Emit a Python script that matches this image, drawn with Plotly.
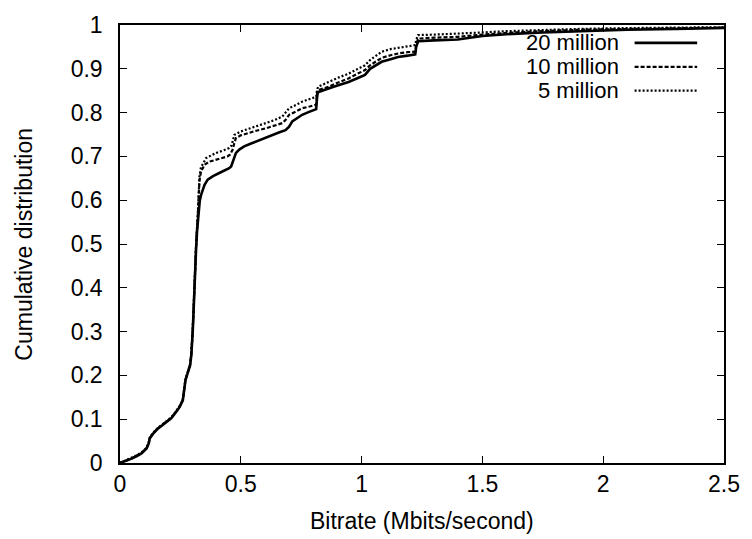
import plotly.graph_objects as go

# Bitrate CDFs for three trace sizes
bitrate_20m = [0, 0.02, 0.048, 0.07, 0.089, 0.11, 0.119, 0.123, 0.137, 0.158, 0.185, 0.212,
               0.233, 0.247, 0.26, 0.267, 0.271, 0.28, 0.29, 0.295, 0.299, 0.301, 0.304,
               0.308, 0.312, 0.315, 0.319, 0.322, 0.326, 0.33, 0.336, 0.35, 0.363, 0.385,
               0.411, 0.44, 0.452, 0.46, 0.466, 0.473, 0.48, 0.495, 0.514, 0.54, 0.562, 0.6,
               0.63, 0.66, 0.685, 0.70, 0.713, 0.735, 0.754, 0.78, 0.80, 0.812, 0.815, 0.818,
               0.822, 0.84, 0.863, 0.9, 0.946, 0.98, 1.014, 1.035, 1.06, 1.083, 1.12, 1.151,
               1.19, 1.222, 1.226, 1.234, 1.3, 1.398, 1.5, 1.6, 1.75, 1.9, 2.1, 2.3, 2.5]
cdf_20m = [0, 0.004, 0.01, 0.016, 0.022, 0.033, 0.045, 0.056, 0.067, 0.079, 0.09, 0.102,
           0.117, 0.128, 0.143, 0.166, 0.189, 0.205, 0.222, 0.245, 0.275, 0.30, 0.34,
           0.41, 0.455, 0.49, 0.53, 0.555, 0.588, 0.598, 0.613, 0.635, 0.647, 0.655,
           0.662, 0.669, 0.673, 0.677, 0.685, 0.698, 0.708, 0.716, 0.723, 0.729, 0.734, 0.741,
           0.749, 0.755, 0.76, 0.768, 0.78, 0.788, 0.795, 0.801, 0.806, 0.808, 0.83, 0.845,
           0.847, 0.85, 0.855, 0.862, 0.87, 0.878, 0.886, 0.9, 0.908, 0.916, 0.922, 0.927,
           0.93, 0.933, 0.95, 0.963, 0.965, 0.967, 0.975, 0.979, 0.983, 0.986, 0.989, 0.991, 0.993]

bitrate_10m = [0, 0.02, 0.048, 0.07, 0.089, 0.11, 0.119, 0.123, 0.137, 0.158, 0.185, 0.212,
               0.233, 0.247, 0.26, 0.267, 0.271, 0.28, 0.29, 0.295, 0.299, 0.301, 0.304,
               0.308, 0.312, 0.315, 0.322, 0.326, 0.329, 0.335, 0.35, 0.37, 0.398, 0.445,
               0.455, 0.466, 0.473, 0.48, 0.50, 0.528, 0.56, 0.603, 0.64, 0.672, 0.685, 0.70,
               0.73, 0.754, 0.785, 0.812, 0.815, 0.818, 0.84, 0.863, 0.9, 0.946, 0.98, 1.014,
               1.035, 1.06, 1.083, 1.12, 1.151, 1.19, 1.222, 1.226, 1.234, 1.3, 1.398, 1.5,
               1.6, 1.75, 1.9, 2.1, 2.3, 2.5]
cdf_10m = [0, 0.004, 0.01, 0.017, 0.023, 0.034, 0.046, 0.057, 0.068, 0.08, 0.091, 0.103,
           0.118, 0.129, 0.144, 0.167, 0.19, 0.206, 0.224, 0.247, 0.277, 0.302, 0.342,
           0.412, 0.458, 0.495, 0.565, 0.612, 0.645, 0.665, 0.681, 0.688, 0.693, 0.70,
           0.704, 0.715, 0.73, 0.742, 0.748, 0.753, 0.758, 0.764, 0.77, 0.776, 0.783, 0.795,
           0.803, 0.81, 0.814, 0.818, 0.84, 0.851, 0.855, 0.859, 0.868, 0.878, 0.888, 0.897,
           0.908, 0.916, 0.925, 0.931, 0.935, 0.938, 0.939, 0.955, 0.969, 0.971, 0.973, 0.978,
           0.982, 0.986, 0.989, 0.991, 0.993, 0.994]

bitrate_5m = [0, 0.02, 0.048, 0.07, 0.089, 0.11, 0.119, 0.123, 0.137, 0.158, 0.185, 0.212,
              0.233, 0.247, 0.26, 0.267, 0.271, 0.28, 0.29, 0.295, 0.299, 0.301, 0.304,
              0.308, 0.312, 0.315, 0.322, 0.326, 0.329, 0.335, 0.356, 0.38, 0.398, 0.43,
              0.452, 0.462, 0.473, 0.50, 0.535, 0.57, 0.603, 0.64, 0.672, 0.685, 0.70,
              0.73, 0.754, 0.785, 0.812, 0.815, 0.82, 0.84, 0.863, 0.9, 0.946, 0.98, 1.014,
              1.035, 1.06, 1.083, 1.12, 1.151, 1.19, 1.222, 1.226, 1.234, 1.3, 1.398, 1.5,
              1.6, 1.75, 1.9, 2.1, 2.3, 2.5]
cdf_5m = [0, 0.005, 0.011, 0.018, 0.024, 0.035, 0.047, 0.058, 0.069, 0.081, 0.092, 0.104,
          0.119, 0.13, 0.145, 0.168, 0.191, 0.207, 0.226, 0.249, 0.279, 0.305, 0.345,
          0.415, 0.462, 0.5, 0.57, 0.622, 0.655, 0.675, 0.696, 0.703, 0.708, 0.714,
          0.719, 0.725, 0.749, 0.757, 0.764, 0.77, 0.776, 0.783, 0.791, 0.80, 0.81,
          0.818, 0.825, 0.831, 0.836, 0.85, 0.859, 0.864, 0.87, 0.879, 0.889, 0.898, 0.908,
          0.92, 0.93, 0.939, 0.945, 0.948, 0.952, 0.954, 0.966, 0.977, 0.978, 0.98, 0.983,
          0.986, 0.989, 0.991, 0.993, 0.994, 0.995]

series_names = ["20 million", "10 million", "5 million"]
series_dash = ["solid", "4px,2px", "2px,2px"]
series_width = [2.6, 2.2, 2.2]

FONT = "Liberation Sans, Arial, Helvetica, sans-serif"
W, H = 752, 539
ML, MR, MT, MB = 120, 24, 23, 76
PW, PH = W - ML - MR, H - MT - MB

fig = go.Figure()
for name, xs, ys, dash, lw in zip(series_names,
                                  [bitrate_20m, bitrate_10m, bitrate_5m],
                                  [cdf_20m, cdf_10m, cdf_5m],
                                  series_dash, series_width):
    fig.add_trace(go.Scatter(x=xs, y=ys, mode="lines", name=name,
                             line=dict(color="black", width=lw, dash=dash),
                             showlegend=False))

# Key in the upper right: label text followed by a line sample
key_rows_px = [41, 65, 89]
for name, dash, lw, ypx in zip(series_names, series_dash, series_width, key_rows_px):
    yp = (H - MB - ypx) / PH
    fig.add_annotation(xref="paper", yref="paper", x=(623 - ML) / PW, y=yp,
                       text=name, showarrow=False, xanchor="right", yanchor="middle",
                       borderpad=0,
                       font=dict(family=FONT, size=22, color="black"))
    fig.add_shape(type="line", xref="paper", yref="paper",
                  x0=(638 - ML) / PW, x1=(701 - ML) / PW, y0=yp, y1=yp,
                  line=dict(color="black", width=lw, dash=dash))

# Axis titles
fig.add_annotation(xref="paper", yref="paper", x=0.5, y=(H - MB - 521) / PH,
                   text="Bitrate (Mbits/second)", showarrow=False,
                   xanchor="center", yanchor="middle",
                   font=dict(family=FONT, size=23, color="black"))
fig.add_annotation(xref="paper", yref="paper", x=(23 - ML) / PW, y=0.5,
                   text="Cumulative distribution", showarrow=False, textangle=-90,
                   xanchor="center", yanchor="middle",
                   font=dict(family=FONT, size=23, color="black"))

axis_common = dict(showgrid=False, zeroline=False, showline=True, linecolor="black",
                   linewidth=1.5, mirror="ticks", ticks="inside", ticklen=7,
                   tickwidth=1.2, tickcolor="black",
                   tickfont=dict(family=FONT, size=23, color="black"))
fig.update_xaxes(range=[0, 2.5], tickvals=[0, 0.5, 1, 1.5, 2, 2.5],
                 ticktext=["0", "0.5", "1", "1.5", "2", "2.5"],
                 ticklabelstandoff=0, **axis_common)
fig.update_yaxes(range=[0, 1], tickvals=[i / 10 for i in range(11)],
                 ticktext=["0", "0.1", "0.2", "0.3", "0.4", "0.5", "0.6", "0.7",
                           "0.8", "0.9", "1"],
                 ticklabelstandoff=11, **axis_common)

fig.update_layout(width=W, height=H, margin=dict(l=ML, r=MR, t=MT, b=MB),
                  paper_bgcolor="white", plot_bgcolor="white",
                  font=dict(family=FONT, size=23, color="black"))
fig.write_html("out.html")
